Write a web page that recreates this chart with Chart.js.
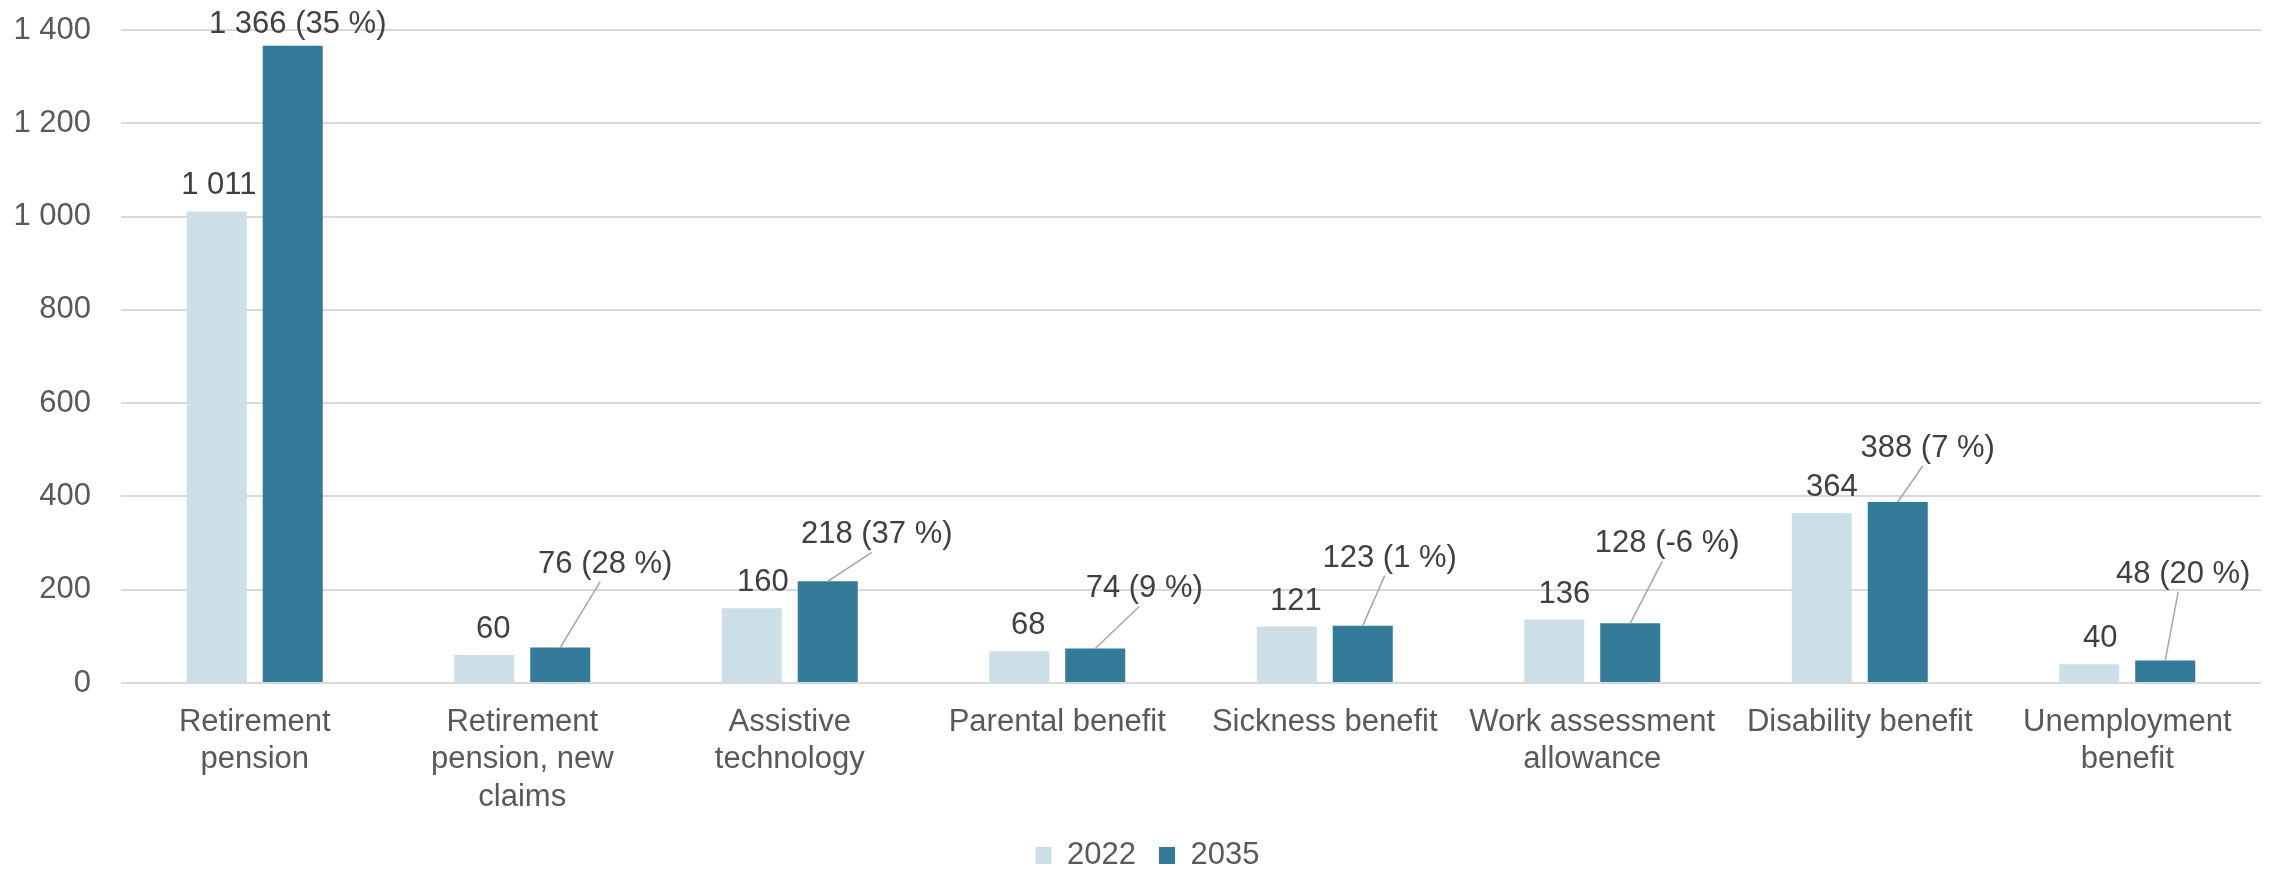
<!DOCTYPE html>
<html>
<head>
<meta charset="utf-8">
<script src="https://cdn.jsdelivr.net/npm/chart.js@4/dist/chart.umd.min.js"></script>
<style>
  html, body { margin: 0; padding: 0; background: #ffffff; overflow: hidden; }
  #chart { display: block; }
</style>
</head>
<body>
<canvas id="chart" width="2280" height="869"></canvas>
<script>
// Benefit categories (multi-line axis labels)
const categories = [
  ['Retirement', 'pension'],
  ['Retirement', 'pension, new', 'claims'],
  ['Assistive', 'technology'],
  'Parental benefit',
  'Sickness benefit',
  ['Work assessment', 'allowance'],
  'Disability benefit',
  ['Unemployment', 'benefit']
];
const seriesNames = ['2022', '2035'];
const values2022 = [1011, 60, 160, 68, 121, 136, 364, 40];
const values2035 = [1366, 76, 218, 74, 123, 128, 388, 48];
const change2035 = [35, 28, 37, 9, 1, -6, 7, 20];   // % change 2022 -> 2035
const yTickValues = [0, 200, 400, 600, 800, 1000, 1200, 1400];

// Label placement (offsets from the top centre of each bar, in px)
const shift2022 = [2, 9, 11, 9, 9, 10, 10, 11];
const callout2035 = [[5, -13], [45, -75], [49, -38], [49, -51], [27, -59], [37, -71], [30, -45], [18, -78]];

const FONT = '"Liberation Sans", Arial, Helvetica, sans-serif';
const LIGHT = '#CCDFE6';
const DARK = '#337B99';
const AXIS_TEXT = '#595959';
const LABEL_TEXT = '#404040';

const fmt = v => String(v).replace(/\B(?=(\d{3})+(?!\d))/g, ' ');

const valueLabels = {
  id: 'valueLabels',
  afterDatasetsDraw(chart) {
    const ctx = chart.ctx;
    ctx.save();
    ctx.font = '31px ' + FONT;
    ctx.textAlign = 'center';
    ctx.textBaseline = 'alphabetic';

    const d0 = chart.data.datasets[0].data;
    chart.getDatasetMeta(0).data.forEach((bar, i) => {
      ctx.fillStyle = LABEL_TEXT;
      ctx.fillText(fmt(d0[i]), bar.x + shift2022[i], bar.y - 17);
    });

    const d1 = chart.data.datasets[1].data;
    chart.getDatasetMeta(1).data.forEach((bar, i) => {
      const [dx, dy] = callout2035[i];
      const cx = bar.x + dx;
      const by = bar.y + dy;
      if (dy < -20) {
        // leader line from the bar top to the offset label
        ctx.strokeStyle = '#A6A6A6';
        ctx.lineWidth = 1.5;
        ctx.beginPath();
        ctx.moveTo(bar.x, bar.y);
        ctx.lineTo(cx - 5, by + 9);
        ctx.stroke();
      }
      ctx.fillStyle = LABEL_TEXT;
      ctx.fillText(fmt(d1[i]) + ' (' + change2035[i] + ' %)', cx, by);
    });
    ctx.restore();
  }
};

// Centre the legend on the whole canvas rather than the padded area
const legendShift = {
  id: 'legendShift',
  afterLayout(chart) {
    const lg = chart.legend;
    if (lg) { lg.left += 17; lg.right += 17; }
  }
};

new Chart(document.getElementById('chart'), {
  type: 'bar',
  data: {
    labels: categories,
    datasets: [
      { label: seriesNames[0], data: values2022, backgroundColor: LIGHT, borderWidth: 0,
        categoryPercentage: 0.568, barPercentage: 0.79 },
      { label: seriesNames[1], data: values2035, backgroundColor: DARK, borderWidth: 0,
        categoryPercentage: 0.568, barPercentage: 0.79 }
    ]
  },
  options: {
    responsive: false,
    animation: false,
    devicePixelRatio: 1,
    layout: { padding: { left: 0, right: 19, top: 30, bottom: -12 } },
    plugins: {
      legend: {
        position: 'bottom',
        labels: {
          boxWidth: 16,
          boxHeight: 17,
          padding: 23,
          color: AXIS_TEXT,
          font: { size: 31, family: FONT }
        }
      },
      tooltip: { enabled: false }
    },
    scales: {
      x: {
        grid: { display: false, drawTicks: false },
        border: { display: false },
        ticks: {
          color: AXIS_TEXT,
          font: { size: 31, family: FONT },
          padding: 21,
          maxRotation: 0,
          minRotation: 0,
          autoSkip: false
        },
        afterFit: s => { s.height = 134; }
      },
      y: {
        min: yTickValues[0],
        max: yTickValues[yTickValues.length - 1],
        afterBuildTicks: s => { s.ticks = yTickValues.map(v => ({ value: v })); },
        ticks: {
          color: AXIS_TEXT,
          font: { size: 31, family: FONT },
          padding: 30,
          callback: v => fmt(v)
        },
        grid: { color: '#D9D9D9', lineWidth: 2, drawTicks: false },
        border: { display: false },
        afterFit: s => {
          s.width = 121;
          s.paddingTop = 0;
          s.paddingBottom = 0;
        }
      }
    }
  },
  plugins: [valueLabels, legendShift]
});
</script>
</body>
</html>
